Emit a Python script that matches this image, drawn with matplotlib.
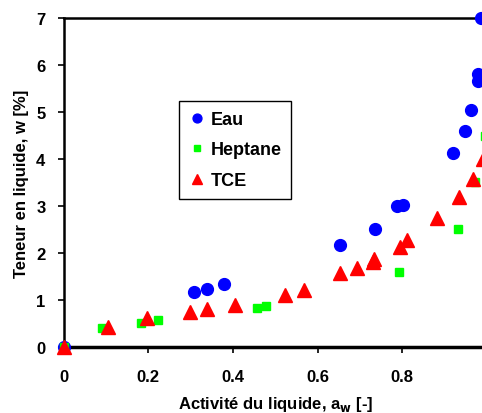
import matplotlib.pyplot as plt

plt.rcParams['font.family'] = ['Liberation Sans', 'DejaVu Sans']
plt.rcParams['font.weight'] = 'bold'

# Eau
eau_x = [0.0, 0.309, 0.339, 0.379, 0.654, 0.736, 0.788, 0.802, 0.919, 0.947, 0.963, 0.978, 0.978, 0.985]
eau_y = [0.0, 1.17, 1.23, 1.33, 2.16, 2.51, 2.99, 3.02, 4.12, 4.59, 5.04, 5.67, 5.81, 7.0]

# Heptane
hep_x = [0.0, 0.09, 0.184, 0.224, 0.456, 0.479, 0.792, 0.931, 0.971, 0.995]
hep_y = [0.0, 0.40, 0.52, 0.57, 0.84, 0.87, 1.59, 2.51, 3.52, 4.5]

# TCE
tce_x = [0.0, 0.105, 0.197, 0.299, 0.339, 0.406, 0.524, 0.567, 0.654, 0.693,
         0.731, 0.734, 0.795, 0.811, 0.882, 0.934, 0.967, 0.99]
tce_y = [0.0, 0.42, 0.62, 0.75, 0.80, 0.90, 1.10, 1.22, 1.58, 1.68,
         1.81, 1.87, 2.12, 2.27, 2.74, 3.19, 3.57, 4.0]

xticks = [0, 0.2, 0.4, 0.6, 0.8, 1]
xticklabels = ['0', '0.2', '0.4', '0.6', '0.8', '1']
yticks = [0, 1, 2, 3, 4, 5, 6, 7]

fig = plt.figure(figsize=(4.82, 4.14), dpi=100)
ax = fig.add_axes([63.5 / 482, 66 / 414, 423.5 / 482, 329 / 414])

ax.plot(eau_x, eau_y, 'o', color='#0000ff', markersize=8.5, label='Eau', clip_on=False, zorder=3)
ax.plot(hep_x, hep_y, 's', color='#00ff00', markersize=6, label='Heptane', clip_on=False, zorder=4)
ax.plot(tce_x, tce_y, '^', color='#ff0000', markersize=9.5, label='TCE', clip_on=False, zorder=5)

ax.set_xlim(0, 1)
ax.set_ylim(0, 7)
ax.set_xticks(xticks)
ax.set_xticklabels(xticklabels)
ax.set_yticks(yticks)
ax.tick_params(direction='out', length=4, width=1.2, labelsize=12)
ax.tick_params(axis='x', pad=12)
ax.tick_params(axis='y', pad=9)
for lbl in ax.get_xticklabels() + ax.get_yticklabels():
    lbl.set_fontweight('bold')

ax.spines['bottom'].set_linewidth(2.5)
ax.spines['left'].set_linewidth(1.8)
ax.spines['top'].set_linewidth(1.8)
ax.spines['right'].set_visible(False)
ax.tick_params(top=False, right=False)

ax.set_xlabel('Activité du liquide, a$_\\mathbf{w}$ [-]', fontsize=12, fontweight='bold', labelpad=7)
ax.set_ylabel('Teneur en liquide, w [%]', fontsize=12, fontweight='bold', labelpad=5)

leg = ax.legend(loc='upper left', bbox_to_anchor=(0.272, 0.748), borderaxespad=0,
                fancybox=False, edgecolor='black', framealpha=1,
                prop={'size': 13, 'weight': 'bold'}, handletextpad=0.3,
                handlelength=0.9, labelspacing=0.75, borderpad=0.55, markerscale=0.75)
leg.get_frame().set_linewidth(1.0)

fig.savefig('out.png', dpi=100)
